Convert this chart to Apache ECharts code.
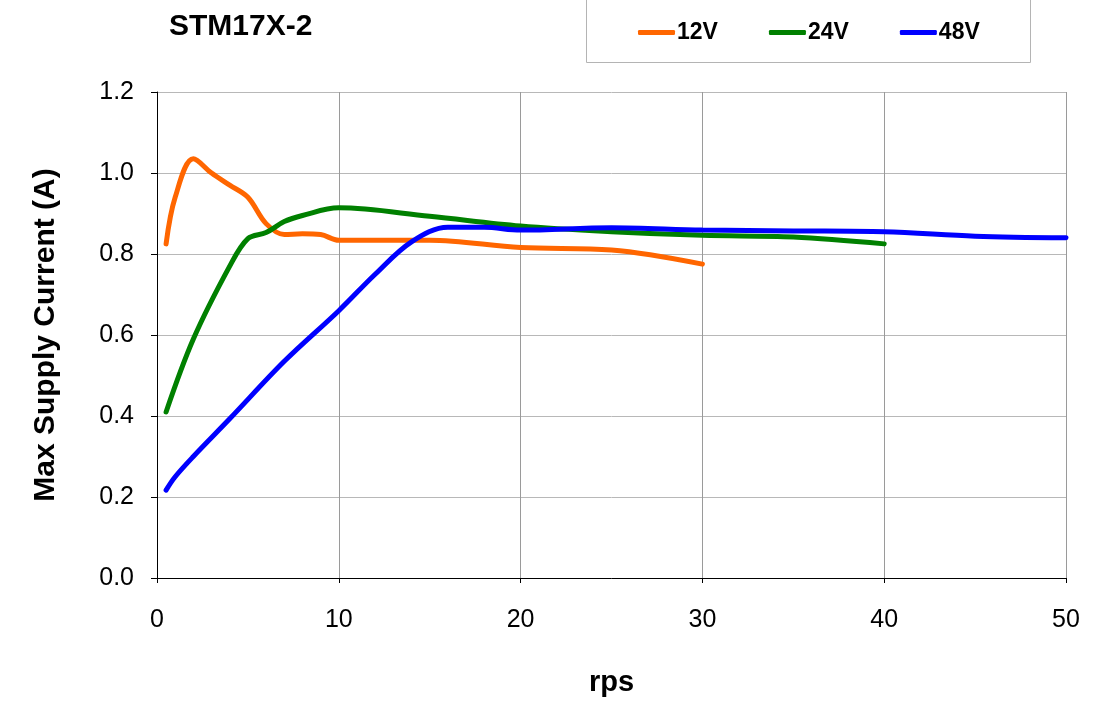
<!DOCTYPE html>
<html>
<head>
<meta charset="utf-8">
<script src="https://cdn.jsdelivr.net/npm/echarts@6/dist/echarts.min.js"></script>
<style>
  html, body { margin: 0; padding: 0; background: #fff; }
  #main { width: 1103px; height: 702px; }
</style>
</head>
<body>
<div id="main"></div>
<script>
// values: [rps, amps]
var data12V = [
  [0.5, 0.825], [1, 0.94], [2, 1.035], [3, 1.0], [4, 0.97], [5, 0.94], [6, 0.875],
  [7, 0.848], [8, 0.85], [9, 0.848], [10, 0.834], [15, 0.834], [20, 0.816],
  [25, 0.81], [30, 0.775]
]
var data24V = [
  [0.5, 0.41], [2, 0.59], [4, 0.77], [5, 0.838], [6, 0.853], [7, 0.88], [8, 0.895],
  [10, 0.914], [15, 0.893], [20, 0.869], [25, 0.855], [30, 0.846], [35, 0.842], [40, 0.825]
]
var data48V = [
  [0.5, 0.217], [1, 0.25], [2, 0.3], [4, 0.393], [7, 0.535], [10, 0.66], [12, 0.75],
  [14, 0.83], [16, 0.866], [18, 0.866], [20, 0.859], [25, 0.865], [30, 0.859],
  [35, 0.857], [40, 0.855], [45, 0.844], [50, 0.84]
]
var seriesNames = ['12V', '24V', '48V']
var seriesColors = ['#ff6600', '#008000', '#0000ff']

var chart = echarts.init(document.getElementById('main'))

function makeSeries (name, values, color) {
  return {
    name: name,
    type: 'line',
    data: values,
    smooth: 0.35,
    showSymbol: false,
    color: color,
    lineStyle: { width: 5, color: color, cap: 'round' }
  }
}

var option = {
  animation: false,
  textStyle: { fontFamily: 'Liberation Sans, Arial, sans-serif' },
  title: {
    text: 'STM17X-2',
    left: 164,
    top: 7,
    textStyle: { fontSize: 30, fontWeight: 'bold', color: '#000' }
  },
  legend: {
    data: seriesNames,
    left: 633,
    top: 16,
    itemWidth: 37,
    itemHeight: 5,
    itemGap: 51,
    icon: 'roundRect',
    textStyle: { fontSize: 23, fontWeight: 'bold', color: '#000', padding: [0, 0, 0, -3] }
  },
  graphic: [{
    type: 'rect',
    shape: { x: 586.5, y: -5, width: 444, height: 67.5 },
    style: { fill: 'none', stroke: '#b4b4b4', lineWidth: 1 },
    z: -1
  }],
  grid: { left: 157, right: 37, top: 92, bottom: 122 },
  xAxis: {
    type: 'value',
    min: 0,
    max: 50,
    interval: 10,
    name: 'rps',
    nameLocation: 'middle',
    nameGap: 90,
    nameTextStyle: { fontSize: 29, fontWeight: 'bold', color: '#000' },
    axisLine: { show: true, lineStyle: { color: '#000', width: 1 } },
    axisTick: { show: true, length: 5, lineStyle: { color: '#000' } },
    axisLabel: { fontSize: 25, color: '#000', margin: 30 },
    splitLine: { show: true, lineStyle: { color: '#9a9a9a', width: 1 } }
  },
  yAxis: {
    type: 'value',
    min: 0,
    max: 1.2,
    interval: 0.2,
    name: 'Max Supply Current (A)',
    nameLocation: 'middle',
    nameGap: 96,
    nameTextStyle: { fontSize: 30, fontWeight: 'bold', color: '#000' },
    axisLine: { show: true, lineStyle: { color: '#000', width: 1 } },
    axisTick: { show: true, length: 6, lineStyle: { color: '#000' } },
    axisLabel: {
      fontSize: 25,
      color: '#000',
      margin: 23,
      formatter: function (v) { return v.toFixed(1) }
    },
    splitLine: { show: true, lineStyle: { color: '#b8b8b8', width: 1 } }
  },
  series: [
    makeSeries(seriesNames[0], data12V, seriesColors[0]),
    makeSeries(seriesNames[1], data24V, seriesColors[1]),
    makeSeries(seriesNames[2], data48V, seriesColors[2])
  ]
}

chart.setOption(option)
</script>
</body>
</html>
